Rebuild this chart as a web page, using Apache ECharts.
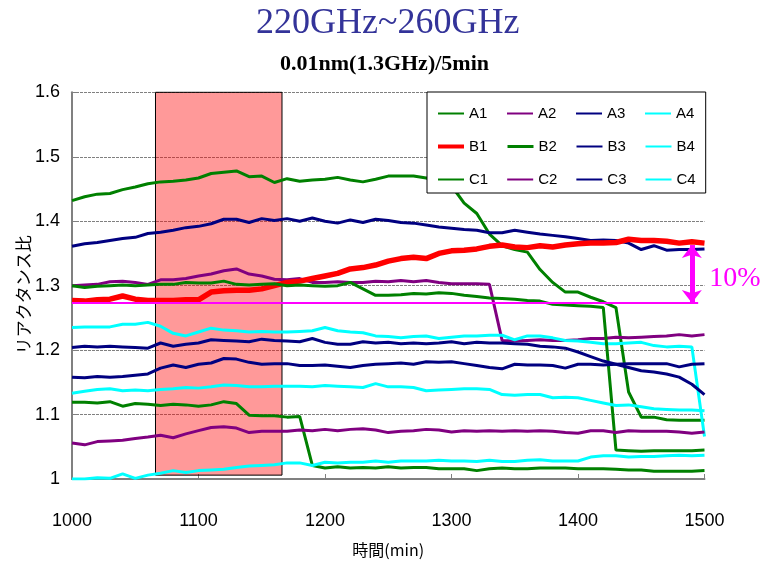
<!DOCTYPE html>
<html>
<head>
<meta charset="utf-8">
<script src="https://cdn.jsdelivr.net/npm/echarts@6/dist/echarts.min.js"></script>
<style>
html, body { margin: 0; padding: 0; background: #fff; }
#main { width: 763px; height: 567px; }
</style>
</head>
<body>
<div id="main"></div>
<script>
// 時間 (min), 10分ごと
let times = [
    1000, 1010, 1020, 1030, 1040, 1050, 1060, 1070, 1080, 1090,
    1100, 1110, 1120, 1130, 1140, 1150, 1160, 1170, 1180, 1190,
    1200, 1210, 1220, 1230, 1240, 1250, 1260, 1270, 1280, 1290,
    1300, 1310, 1320, 1330, 1340, 1350, 1360, 1370, 1380, 1390,
    1400, 1410, 1420, 1430, 1440, 1450, 1460, 1470, 1480, 1490,
    1500
];

let A1 = [
    1.432, 1.438, 1.442, 1.443, 1.449, 1.453, 1.458, 1.461, 1.462, 1.464,
    1.467, 1.474, 1.476, 1.478, 1.469, 1.470, 1.460, 1.466, 1.462, 1.464,
    1.465, 1.468, 1.464, 1.461, 1.465, 1.470, 1.470, 1.470, 1.467, 1.462,
    1.455, 1.428, 1.412, 1.380, 1.362, 1.356, 1.352, 1.325, 1.305, 1.290,
    1.290, 1.282, 1.275, 1.266, 1.135, 1.096, 1.096, 1.092, 1.091, 1.091,
    1.091
];
let A2 = [
    1.300, 1.301, 1.302, 1.306, 1.307, 1.305, 1.302, 1.309, 1.309, 1.311,
    1.315, 1.318, 1.323, 1.326, 1.318, 1.315, 1.310, 1.309, 1.311, 1.305,
    1.305, 1.306, 1.305, 1.305, 1.307, 1.306, 1.308, 1.306, 1.308, 1.305,
    1.303, 1.303, 1.303, 1.302, 1.215, 1.214, 1.215, 1.216, 1.215, 1.215,
    1.216, 1.218, 1.218, 1.220, 1.219, 1.220, 1.221, 1.222, 1.224, 1.222,
    1.224
];
let A3 = [
    1.361, 1.365, 1.367, 1.370, 1.373, 1.375, 1.381, 1.383, 1.386, 1.390,
    1.392, 1.396, 1.403, 1.403, 1.398, 1.404, 1.401, 1.404, 1.400, 1.405,
    1.400, 1.397, 1.402, 1.398, 1.403, 1.401, 1.398, 1.397, 1.394, 1.391,
    1.389, 1.387, 1.386, 1.382, 1.382, 1.386, 1.383, 1.380, 1.378, 1.376,
    1.373, 1.370, 1.371, 1.370, 1.366, 1.356, 1.362, 1.355, 1.356, 1.356,
    1.357
];
let A4 = [
    1.235, 1.236, 1.236, 1.236, 1.240, 1.240, 1.243, 1.237, 1.226, 1.222,
    1.228, 1.234, 1.231, 1.230, 1.228, 1.229, 1.228, 1.228, 1.229, 1.230,
    1.235, 1.230, 1.228, 1.227, 1.222, 1.221, 1.219, 1.221, 1.222, 1.218,
    1.220, 1.222, 1.222, 1.223, 1.223, 1.216, 1.222, 1.222, 1.219, 1.215,
    1.214, 1.212, 1.210, 1.210, 1.211, 1.212, 1.207, 1.205, 1.206, 1.205,
    1.066
];
let B1 = [
    1.277, 1.276, 1.278, 1.279, 1.284, 1.279, 1.277, 1.277, 1.277, 1.278,
    1.278, 1.290, 1.292, 1.293, 1.293, 1.295, 1.300, 1.305, 1.307, 1.311,
    1.315, 1.319, 1.326, 1.328, 1.332, 1.338, 1.342, 1.344, 1.342, 1.350,
    1.354, 1.355, 1.357, 1.361, 1.363, 1.360, 1.359, 1.362, 1.360, 1.363,
    1.365, 1.366, 1.366, 1.367, 1.372, 1.370, 1.370, 1.369, 1.366, 1.368,
    1.366
];
let B2 = [
    1.300, 1.297, 1.299, 1.300, 1.301, 1.300, 1.301, 1.302, 1.302, 1.305,
    1.304, 1.304, 1.307, 1.302, 1.301, 1.302, 1.303, 1.300, 1.301, 1.300,
    1.299, 1.300, 1.305, 1.295, 1.285, 1.285, 1.286, 1.288, 1.287, 1.289,
    1.288, 1.285, 1.283, 1.281, 1.280, 1.279, 1.277, 1.276, 1.271, 1.270,
    1.269, 1.268, 1.266, 1.045, 1.044, 1.043, 1.044, 1.044, 1.044, 1.044,
    1.045
];
let B3 = [
    1.204, 1.206, 1.205, 1.206, 1.205, 1.204, 1.203, 1.211, 1.206, 1.209,
    1.211, 1.216, 1.215, 1.214, 1.213, 1.217, 1.215, 1.214, 1.213, 1.218,
    1.212, 1.209, 1.209, 1.213, 1.211, 1.212, 1.210, 1.211, 1.210, 1.211,
    1.213, 1.210, 1.212, 1.211, 1.211, 1.210, 1.209, 1.206, 1.205, 1.203,
    1.197, 1.190, 1.183, 1.178, 1.173, 1.168, 1.166, 1.163, 1.158, 1.147,
    1.131
];
let B4 = [
    1.133, 1.136, 1.139, 1.140, 1.137, 1.138, 1.137, 1.139, 1.140, 1.142,
    1.141, 1.143, 1.146, 1.145, 1.143, 1.143, 1.144, 1.144, 1.144, 1.143,
    1.145, 1.144, 1.143, 1.142, 1.148, 1.143, 1.143, 1.142, 1.137, 1.138,
    1.139, 1.140, 1.140, 1.139, 1.131, 1.130, 1.131, 1.131, 1.126, 1.127,
    1.126, 1.122, 1.118, 1.114, 1.115, 1.112, 1.109, 1.108, 1.107, 1.107,
    1.106
];
let C1 = [
    1.119, 1.119, 1.118, 1.120, 1.113, 1.117, 1.116, 1.114, 1.116, 1.115,
    1.113, 1.115, 1.120, 1.117, 1.099, 1.098, 1.098, 1.096, 1.097, 1.021,
    1.017, 1.019, 1.017, 1.018, 1.017, 1.019, 1.017, 1.018, 1.018, 1.016,
    1.016, 1.016, 1.013, 1.016, 1.017, 1.016, 1.016, 1.017, 1.017, 1.017,
    1.016, 1.016, 1.016, 1.015, 1.014, 1.014, 1.012, 1.012, 1.012, 1.012,
    1.013
];
let C2 = [
    1.056, 1.053, 1.058, 1.059, 1.060, 1.063, 1.065, 1.068, 1.064, 1.070,
    1.075, 1.080, 1.081, 1.079, 1.072, 1.074, 1.074, 1.074, 1.076, 1.075,
    1.077, 1.075, 1.077, 1.078, 1.076, 1.072, 1.074, 1.075, 1.077, 1.076,
    1.073, 1.075, 1.074, 1.075, 1.074, 1.075, 1.074, 1.075, 1.074, 1.072,
    1.071, 1.075, 1.075, 1.072, 1.075, 1.074, 1.074, 1.074, 1.073, 1.071,
    1.073
];
let C3 = [
    1.158, 1.157, 1.159, 1.158, 1.159, 1.161, 1.163, 1.172, 1.177, 1.173,
    1.178, 1.180, 1.187, 1.186, 1.181, 1.178, 1.179, 1.179, 1.176, 1.176,
    1.177, 1.175, 1.173, 1.176, 1.178, 1.179, 1.180, 1.178, 1.182, 1.181,
    1.182, 1.179, 1.176, 1.173, 1.171, 1.178, 1.177, 1.177, 1.176, 1.172,
    1.178, 1.178, 1.177, 1.178, 1.179, 1.179, 1.179, 1.179, 1.174, 1.178,
    1.179
];
let C4 = [
    1.000, 1.000, 1.002, 1.001, 1.008, 1.001, 1.006, 1.009, 1.013, 1.010,
    1.013, 1.014, 1.015, 1.018, 1.020, 1.021, 1.022, 1.025, 1.025, 1.021,
    1.026, 1.025, 1.026, 1.026, 1.028, 1.026, 1.028, 1.028, 1.028, 1.029,
    1.028, 1.028, 1.027, 1.029, 1.027, 1.027, 1.029, 1.030, 1.028, 1.028,
    1.028, 1.034, 1.036, 1.036, 1.034, 1.035, 1.035, 1.036, 1.037, 1.036,
    1.037
];

let names = ['A1', 'A2', 'A3', 'A4', 'B1', 'B2', 'B3', 'B4', 'C1', 'C2', 'C3', 'C4'];
let values = [A1, A2, A3, A4, B1, B2, B3, B4, C1, C2, C3, C4];

// 注記の値
let shadeFrom = 1066, shadeTo = 1166;      // 赤い帯
let shadeLow = 1.006, shadeHigh = 1.6;
let refLevel = 1.273;                       // 基準線
let refEnd = 1495;
let arrowAt = 1490, arrowTop = 1.363;       // 10% 矢印
let arrowLabel = '10%';

let lineColors = [
    '#008000', '#800080', '#000080', '#00ffff',
    '#ff0000', '#008000', '#000080', '#00ffff',
    '#008000', '#800080', '#000080', '#00ffff'
];

let series = names.map(function (n, i) {
    return {
        name: n,
        type: 'line',
        symbol: 'none',
        showSymbol: false,
        z: 2,
        data: times.map(function (t, k) { return [t, values[i][k]]; }),
        lineStyle: { color: lineColors[i], width: n === 'B1' ? 5.5 : 3 },
        itemStyle: { color: lineColors[i] }
    };
});

// 赤い帯
series.push({
    type: 'line',
    data: [],
    z: 3,
    markArea: {
        silent: true,
        itemStyle: { color: 'rgba(255,0,0,0.4)', borderColor: '#000', borderWidth: 1 },
        data: [[{ xAxis: shadeFrom, yAxis: shadeLow }, { xAxis: shadeTo, yAxis: shadeHigh }]]
    }
});

// 基準線
series.push({
    type: 'line',
    data: [],
    z: 4,
    markLine: {
        silent: true,
        symbol: 'none',
        label: { show: false },
        lineStyle: { color: '#ff00ff', width: 2, type: 'solid' },
        data: [[{ coord: [1000, refLevel] }, { coord: [refEnd, refLevel] }]]
    }
});

// 矢印と 10%
series.push({
    type: 'line',
    data: [],
    z: 4,
    markLine: {
        silent: true,
        symbol: ['arrow', 'arrow'],
        symbolSize: [15, 13],
        label: { show: false },
        lineStyle: { color: '#ff00ff', width: 5, type: 'solid' },
        data: [[{ coord: [arrowAt, refLevel] }, { coord: [arrowAt, arrowTop] }]]
    },
    markPoint: {
        silent: true,
        symbol: 'circle',
        symbolSize: 0,
        itemStyle: { color: 'rgba(0,0,0,0)' },
        label: {
            show: true,
            formatter: arrowLabel,
            offset: [43, 0],
            color: '#ff00ff',
            fontFamily: 'Liberation Serif',
            fontSize: 28
        },
        data: [{ coord: [arrowAt, (refLevel + arrowTop) / 2 - 0.007] }]
    }
});

let option = {
    animation: false,
    backgroundColor: '#fff',
    title: [
        {
            text: '220GHz~260GHz',
            left: 256,
            top: 6,
            padding: 0,
            textStyle: { fontFamily: 'Liberation Serif', fontSize: 36, fontWeight: 'normal', color: '#333399' }
        },
        {
            text: '0.01nm(1.3GHz)/5min',
            left: 280,
            top: 53,
            padding: 0,
            textStyle: { fontFamily: 'Liberation Serif', fontSize: 22, fontWeight: 'bold', color: '#000' }
        }
    ],
    legend: {
        data: names.map(function (n) {
            if (n === 'B1') return { name: n, lineStyle: { width: 4 } };
            if (n === 'B2') return { name: n, lineStyle: { width: 3 } };
            return { name: n };
        }),
        orient: 'horizontal',
        left: 427,
        top: 92,
        width: 290,
        itemWidth: 26,
        itemHeight: 13.5,
        itemGap: 18,
        padding: [14, 10, 6, 9],
        backgroundColor: '#fff',
        borderColor: '#000',
        borderWidth: 1,
        borderRadius: 0,
        selectedMode: false,
        itemStyle: { opacity: 0, borderWidth: 0 },
        lineStyle: { width: 2 },
        textStyle: { fontFamily: 'Liberation Sans', fontSize: 15, color: '#000', width: 19, lineHeight: 13.5 }
    },
    grid: {
        left: 72,
        right: 58.5,
        top: 92.3,
        bottom: 88,
        containLabel: false,
        outerBoundsMode: 'none'
    },
    xAxis: {
        type: 'value',
        min: 1000,
        max: 1500,
        interval: 100,
        name: '時間(min)',
        nameLocation: 'middle',
        nameGap: 63,
        nameMoveOverlap: false,
        nameTextStyle: { fontFamily: 'Noto Sans CJK JP', fontSize: 16, color: '#000' },
        axisLine: { lineStyle: { color: '#808080', width: 2 } },
        axisTick: { inside: true, length: 5, lineStyle: { color: '#808080', width: 1 } },
        axisLabel: {
            margin: 33,
            color: '#000',
            fontFamily: 'Liberation Sans',
            fontSize: 18,
            formatter: function (v) { return String(v); }
        },
        splitLine: { show: false }
    },
    yAxis: {
        type: 'value',
        min: 1,
        max: 1.6,
        interval: 0.1,
        name: 'リアクタンス比',
        nameLocation: 'middle',
        nameRotate: 90,
        nameGap: 40,
        nameMoveOverlap: false,
        nameTextStyle: { fontFamily: 'Noto Sans CJK JP', fontSize: 17, color: '#000', padding: [0, 18, 0, 0] },
        axisLine: { show: true, lineStyle: { color: '#808080', width: 2 } },
        axisTick: { show: true, inside: true, length: 5, lineStyle: { color: '#808080', width: 1 } },
        axisLabel: {
            margin: 12,
            color: '#000',
            fontFamily: 'Liberation Sans',
            fontSize: 18,
            formatter: function (v) { return String(+v.toFixed(1)); }
        },
        splitLine: { show: true, lineStyle: { color: '#808080', width: 1, type: [3, 1] } }
    },
    series: series
};

var dom = document.getElementById('main');
var myChart = echarts.init(dom);
myChart.setOption(option, true);
</script>
</body>
</html>
